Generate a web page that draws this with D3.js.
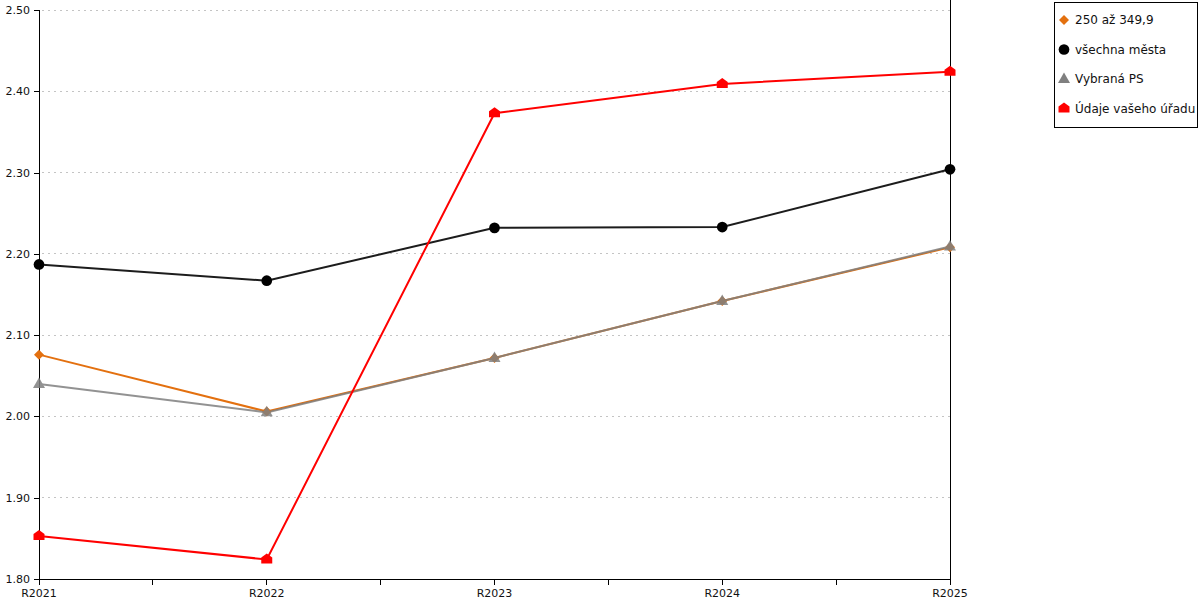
<!DOCTYPE html>
<html lang="cs">
<head>
<meta charset="UTF-8">
<title>Graf</title>
<script src="https://d3js.org/d3.v7.min.js"></script>
<style>
  body { margin: 0; background: #fff; }
  svg { display: block; font-family: "DejaVu Sans", Verdana, sans-serif; }
  .crisp { shape-rendering: crispEdges; }
</style>
</head>
<body>
<svg id="chart" width="1200" height="600"></svg>
<script>
// Data
const categories = ["R2021", "R2022", "R2023", "R2024", "R2025"];
const seriesNames = ["250 až 349,9", "všechna města", "Vybraná PS", "Údaje vašeho úřadu"];
const valuesOrange = [2.076, 2.006, 2.072, 2.142, 2.208];
const valuesBlack = [2.187, 2.167, 2.232, 2.233, 2.304];
const valuesGray = [2.040, 2.005, 2.072, 2.142, 2.209];
const valuesRed = [1.853, 1.824, 2.373, 2.409, 2.424];
const yTicks = [1.8, 1.9, 2.0, 2.1, 2.2, 2.3, 2.4, 2.5];

const series = [
  { name: seriesNames[0], values: valuesOrange, color: "#e3700f", marker: "diamond" },
  { name: seriesNames[1], values: valuesBlack, color: "#000000", stroke: "#1c1c1c", marker: "circle" },
  { name: seriesNames[2], values: valuesGray, color: "#808080", marker: "triangle", opacity: 0.85 },
  { name: seriesNames[3], values: valuesRed, color: "#ff0000", marker: "house" }
];

const svg = d3.select("#chart");
const plotLeft = 39, plotRight = 950, plotTop = 10, plotBottom = 579;

const x = d3.scalePoint().domain(categories).range([plotLeft, plotRight]);
const y = d3.scaleLinear().domain([1.8, 2.5]).range([plotBottom, plotTop]);

// grid
svg.append("g").attr("class", "crisp")
  .selectAll("line")
  .data(yTicks.slice(1))
  .enter().append("line")
  .attr("x1", plotLeft + 3).attr("x2", plotRight)
  .attr("y1", d => y(d)).attr("y2", d => y(d))
  .attr("stroke", "#c4c4c4")
  .attr("stroke-dasharray", "2,4");

// y axis
const yAxis = svg.append("g")
  .attr("class", "crisp")
  .attr("transform", `translate(${plotLeft},0)`)
  .call(d3.axisLeft(y).tickValues(yTicks).tickFormat(d3.format(".2f")).tickSize(5).tickPadding(4));
yAxis.select(".domain").attr("stroke", "#000").attr("d", `M0,${plotBottom}V${plotTop}`);
yAxis.selectAll("line").attr("stroke", "#000");
yAxis.selectAll("text").attr("font-size", 11).attr("fill", "#111")
  .attr("font-family", "'DejaVu Sans', Verdana, sans-serif");

// x axis: ticks on categories and between them
const step = x.step();
const xTickPos = [];
categories.forEach((c, i) => {
  xTickPos.push(x(c));
  if (i < categories.length - 1) xTickPos.push(x(c) + step / 2);
});
const xAxis = svg.append("g").attr("class", "crisp").attr("transform", `translate(0,${plotBottom})`);
xAxis.append("line").attr("x1", plotLeft).attr("x2", plotRight).attr("stroke", "#000");
xAxis.selectAll(".tk").data(xTickPos).enter().append("line")
  .attr("x1", d => d).attr("x2", d => d).attr("y1", 0).attr("y2", 6).attr("stroke", "#000");
xAxis.selectAll(".lbl").data(categories).enter().append("text")
  .attr("x", d => x(d)).attr("y", 18)
  .attr("text-anchor", "middle").attr("font-size", 11).attr("fill", "#111")
  .text(d => d);

// right border
svg.append("line").attr("class", "crisp")
  .attr("x1", plotRight).attr("x2", plotRight).attr("y1", 0).attr("y2", plotBottom)
  .attr("stroke", "#000");

// markers
function markerPath(type) {
  switch (type) {
    case "diamond": return "M0,-5L5,0L0,5L-5,0Z";
    case "circle": return d3.symbol(d3.symbolCircle, 90)();
    case "triangle": return "M0,-6.5L6,4L-6,4Z";
    case "house": return "M0,-6L5.5,-2V4H-5.5V-2Z";
  }
}

const line = d3.line().x((d, i) => x(categories[i])).y(d => y(d));

series.forEach(s => {
  const g = svg.append("g").attr("opacity", s.opacity || 1);
  g.append("path").datum(s.values)
    .attr("d", line)
    .attr("fill", "none")
    .attr("stroke", s.stroke || s.color)
    .attr("stroke-width", 2);
  g.selectAll("path.m").data(s.values).enter().append("path")
    .attr("class", "m")
    .attr("transform", (d, i) => `translate(${x(categories[i])},${y(d)})`)
    .attr("d", markerPath(s.marker))
    .attr("fill", s.color);
});

// legend
const legend = svg.append("g").attr("transform", "translate(1054,2)");
legend.append("rect").attr("class", "crisp")
  .attr("x", 0.5).attr("y", 0.5).attr("width", 143).attr("height", 125)
  .attr("fill", "#fff").attr("stroke", "#000");
const items = legend.selectAll(".li").data(series).enter().append("g")
  .attr("transform", (d, i) => `translate(0,${17 + i * 29.5})`);
items.append("path")
  .attr("transform", "translate(10,1)")
  .attr("d", d => markerPath(d.marker))
  .attr("fill", d => d.color);
items.append("text").attr("x", 21).attr("y", 5)
  .attr("font-size", 12).attr("fill", "#111")
  .text(d => d.name);
</script>
</body>
</html>
